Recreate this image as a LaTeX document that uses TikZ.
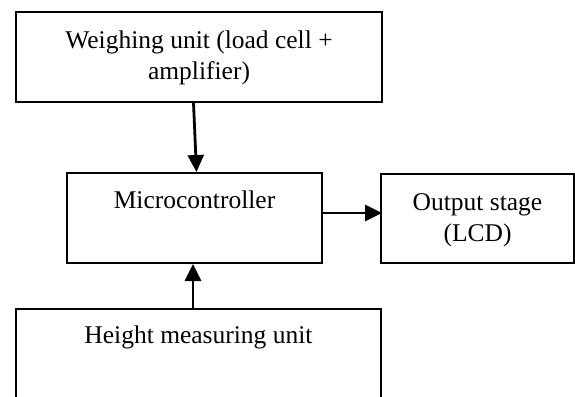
\documentclass[tikz,border=0pt]{standalone}
\usepackage{fontspec}
\setmainfont{Liberation Serif}
\usetikzlibrary{arrows.meta,calc}
\tikzset{
  box/.style={draw, line width=2pt, rectangle, inner sep=0pt, anchor=north west},
  lbl/.style={inner sep=0pt, align=center, font=\fontsize{25.5pt}{31pt}\selectfont, anchor=base},
  conn/.style={line width=2.8pt, -{Triangle[length=17pt,width=16pt]}}
}
\begin{document}
\begin{tikzpicture}[x=1pt,y=-1pt]
\useasboundingbox (0,0) rectangle (575,396);
\clip (0,0) rectangle (575,396);
\node[box, minimum width=366pt, minimum height=90pt] (weigh) at (15,11) {};
\node[box, minimum width=255pt, minimum height=90pt] (micro) at (66,172) {};
\node[box, minimum width=193pt, minimum height=89pt] (out) at (380,172.5) {};
\node[box, minimum width=365pt, minimum height=110pt] (height) at (15,308) {};
\node[lbl] (weightxt) at ($(weigh.north)+(0,68)$) {Weighing unit (load cell +\\amplifier)};
\node[lbl] (microtxt) at ($(micro.north)+(0,36)$) {Microcontroller};
\node[lbl] (outtxt) at ($(out.north)+(0,69)$) {Output stage\\(LCD)};
\node[lbl] (heighttxt) at ($(height.north)+(0,35)$) {Height measuring unit};
\draw[conn] ([xshift=-5.5pt]weigh.south) -- ([xshift=2pt]micro.north);
\draw[conn] ([yshift=5pt]micro.east) -- ([xshift=2pt,yshift=5pt]out.west);
\draw[conn] ([xshift=-5.5pt]height.north) -- ([xshift=-1.5pt]micro.south);
\end{tikzpicture}
\end{document}
